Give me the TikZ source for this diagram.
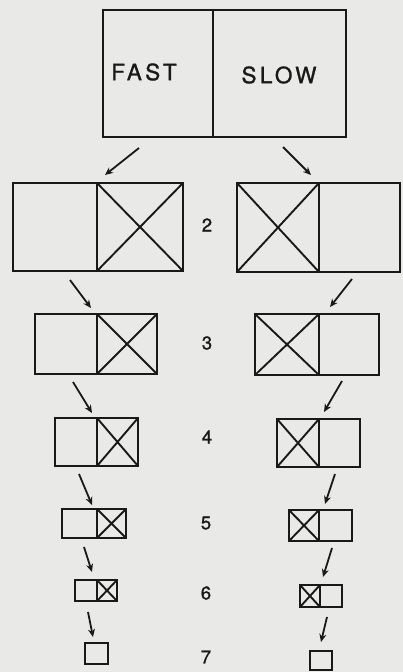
\documentclass[tikz,border=0pt]{standalone}
\usepackage{fontspec}
\setmainfont{TeX Gyre Heros}
\newfontfamily\capsfont[LetterSpace=15,FakeBold=1.2]{TeX Gyre Heros}
\newfontfamily\numfont[FakeBold=1.2]{TeX Gyre Heros}
\usetikzlibrary{arrows.meta}
\definecolor{paper}{RGB}{233,233,231}
\definecolor{ink}{RGB}{25,25,25}
\tikzset{
  x=1pt, y=-1pt,
  cellbox/.style={draw=ink, line width=2.1pt, inner sep=0pt, outer sep=0pt},
  xcell/.style={cellbox, path picture={\draw[ink, line width=1.9pt]
      (path picture bounding box.south west) -- (path picture bounding box.north east)
      (path picture bounding box.north west) -- (path picture bounding box.south east);}},
  arr/.style={draw=ink, line width=1.8pt, -{Stealth[length=8pt,width=7pt]}},
  numlbl/.style={text=ink, font=\numfont\fontsize{18.5}{18.5}\selectfont, inner sep=0pt},
  biglbl/.style={text=ink, font=\capsfont\fontsize{22.5}{22.5}\selectfont, inner sep=0pt}
}
\newcommand{\mycell}[6]{%
  \node[#6, minimum width={(#4)-(#2)}, minimum height={(#5)-(#3)}]
    (#1) at ({((#2)+(#4))/2},{((#3)+(#5))/2}) {};}
\begin{document}
\begin{tikzpicture}
\fill[paper] (0,0) rectangle (403,672);
\useasboundingbox (0,0) rectangle (403,672);
% top box
\mycell{topL}{103}{10}{213}{137}{cellbox}
\mycell{topR}{213}{10}{346}{137}{cellbox}
\node[biglbl] (fast) at (144,72) {FAST};
\node[biglbl] (slow) at (279,75) {SLOW};
% row 2
\mycell{L2a}{13}{183}{97}{271}{cellbox}
\mycell{L2b}{97}{183}{183}{271}{xcell}
\mycell{R2a}{237}{183}{319}{272}{xcell}
\mycell{R2b}{319}{183}{400}{272}{cellbox}
\node[numlbl] (n2) at (207,225) {2};
% row 3
\mycell{L3a}{35}{314}{97}{374}{cellbox}
\mycell{L3b}{97}{314}{157}{374}{xcell}
\mycell{R3a}{255}{314}{319}{375}{xcell}
\mycell{R3b}{319}{314}{379}{375}{cellbox}
\node[numlbl] (n3) at (207,343) {3};
% row 4
\mycell{L4a}{55}{418}{97}{466}{cellbox}
\mycell{L4b}{97}{418}{138}{466}{xcell}
\mycell{R4a}{277}{419}{319}{467}{xcell}
\mycell{R4b}{319}{419}{360}{467}{cellbox}
\node[numlbl] (n4) at (207,437) {4};
% row 5
\mycell{L5a}{62}{509}{97}{538}{cellbox}
\mycell{L5b}{97}{509}{126}{538}{xcell}
\mycell{R5a}{289}{510}{319}{541}{xcell}
\mycell{R5b}{319}{510}{352}{541}{cellbox}
\node[numlbl] (n5) at (206,523) {5};
% row 6
\mycell{L6a}{75}{580}{97}{601}{cellbox}
\mycell{L6b}{97}{580}{117}{601}{xcell}
\mycell{R6a}{300}{585}{320}{607}{xcell}
\mycell{R6b}{320}{585}{342}{607}{cellbox}
\node[numlbl] (n6) at (206,593) {6};
% row 7
\mycell{L7}{85}{643}{108}{664}{cellbox}
\mycell{R7}{310}{651}{332}{670}{cellbox}
\node[numlbl] (n7) at (206,657) {7};
% arrow end points
\coordinate (a1s) at (139,148); \coordinate (a1e) at (105,175);
\coordinate (b1s) at (283,147); \coordinate (b1e) at (311,175);
\coordinate (a2s) at (70,280);  \coordinate (a2e) at (91,308);
\coordinate (b2s) at (352,279); \coordinate (b2e) at (330,307);
\coordinate (a3s) at (73,382);  \coordinate (a3e) at (92,413);
\coordinate (b3s) at (342,381); \coordinate (b3e) at (324,412);
\coordinate (a4s) at (79,474);  \coordinate (a4e) at (92,505);
\coordinate (b4s) at (335,474); \coordinate (b4e) at (325,504);
\coordinate (a5s) at (84,547);  \coordinate (a5e) at (92,572);
\coordinate (b5s) at (332,548); \coordinate (b5e) at (323,577);
\coordinate (a6s) at (88,612);  \coordinate (a6e) at (93,637);
\coordinate (b6s) at (327,617); \coordinate (b6e) at (321,642);
\foreach \p in {a1,b1,a2,b2,a3,b3,a4,b4,a5,b5,a6,b6}
  \draw[arr] (\p s) -- (\p e);
\end{tikzpicture}
\end{document}
